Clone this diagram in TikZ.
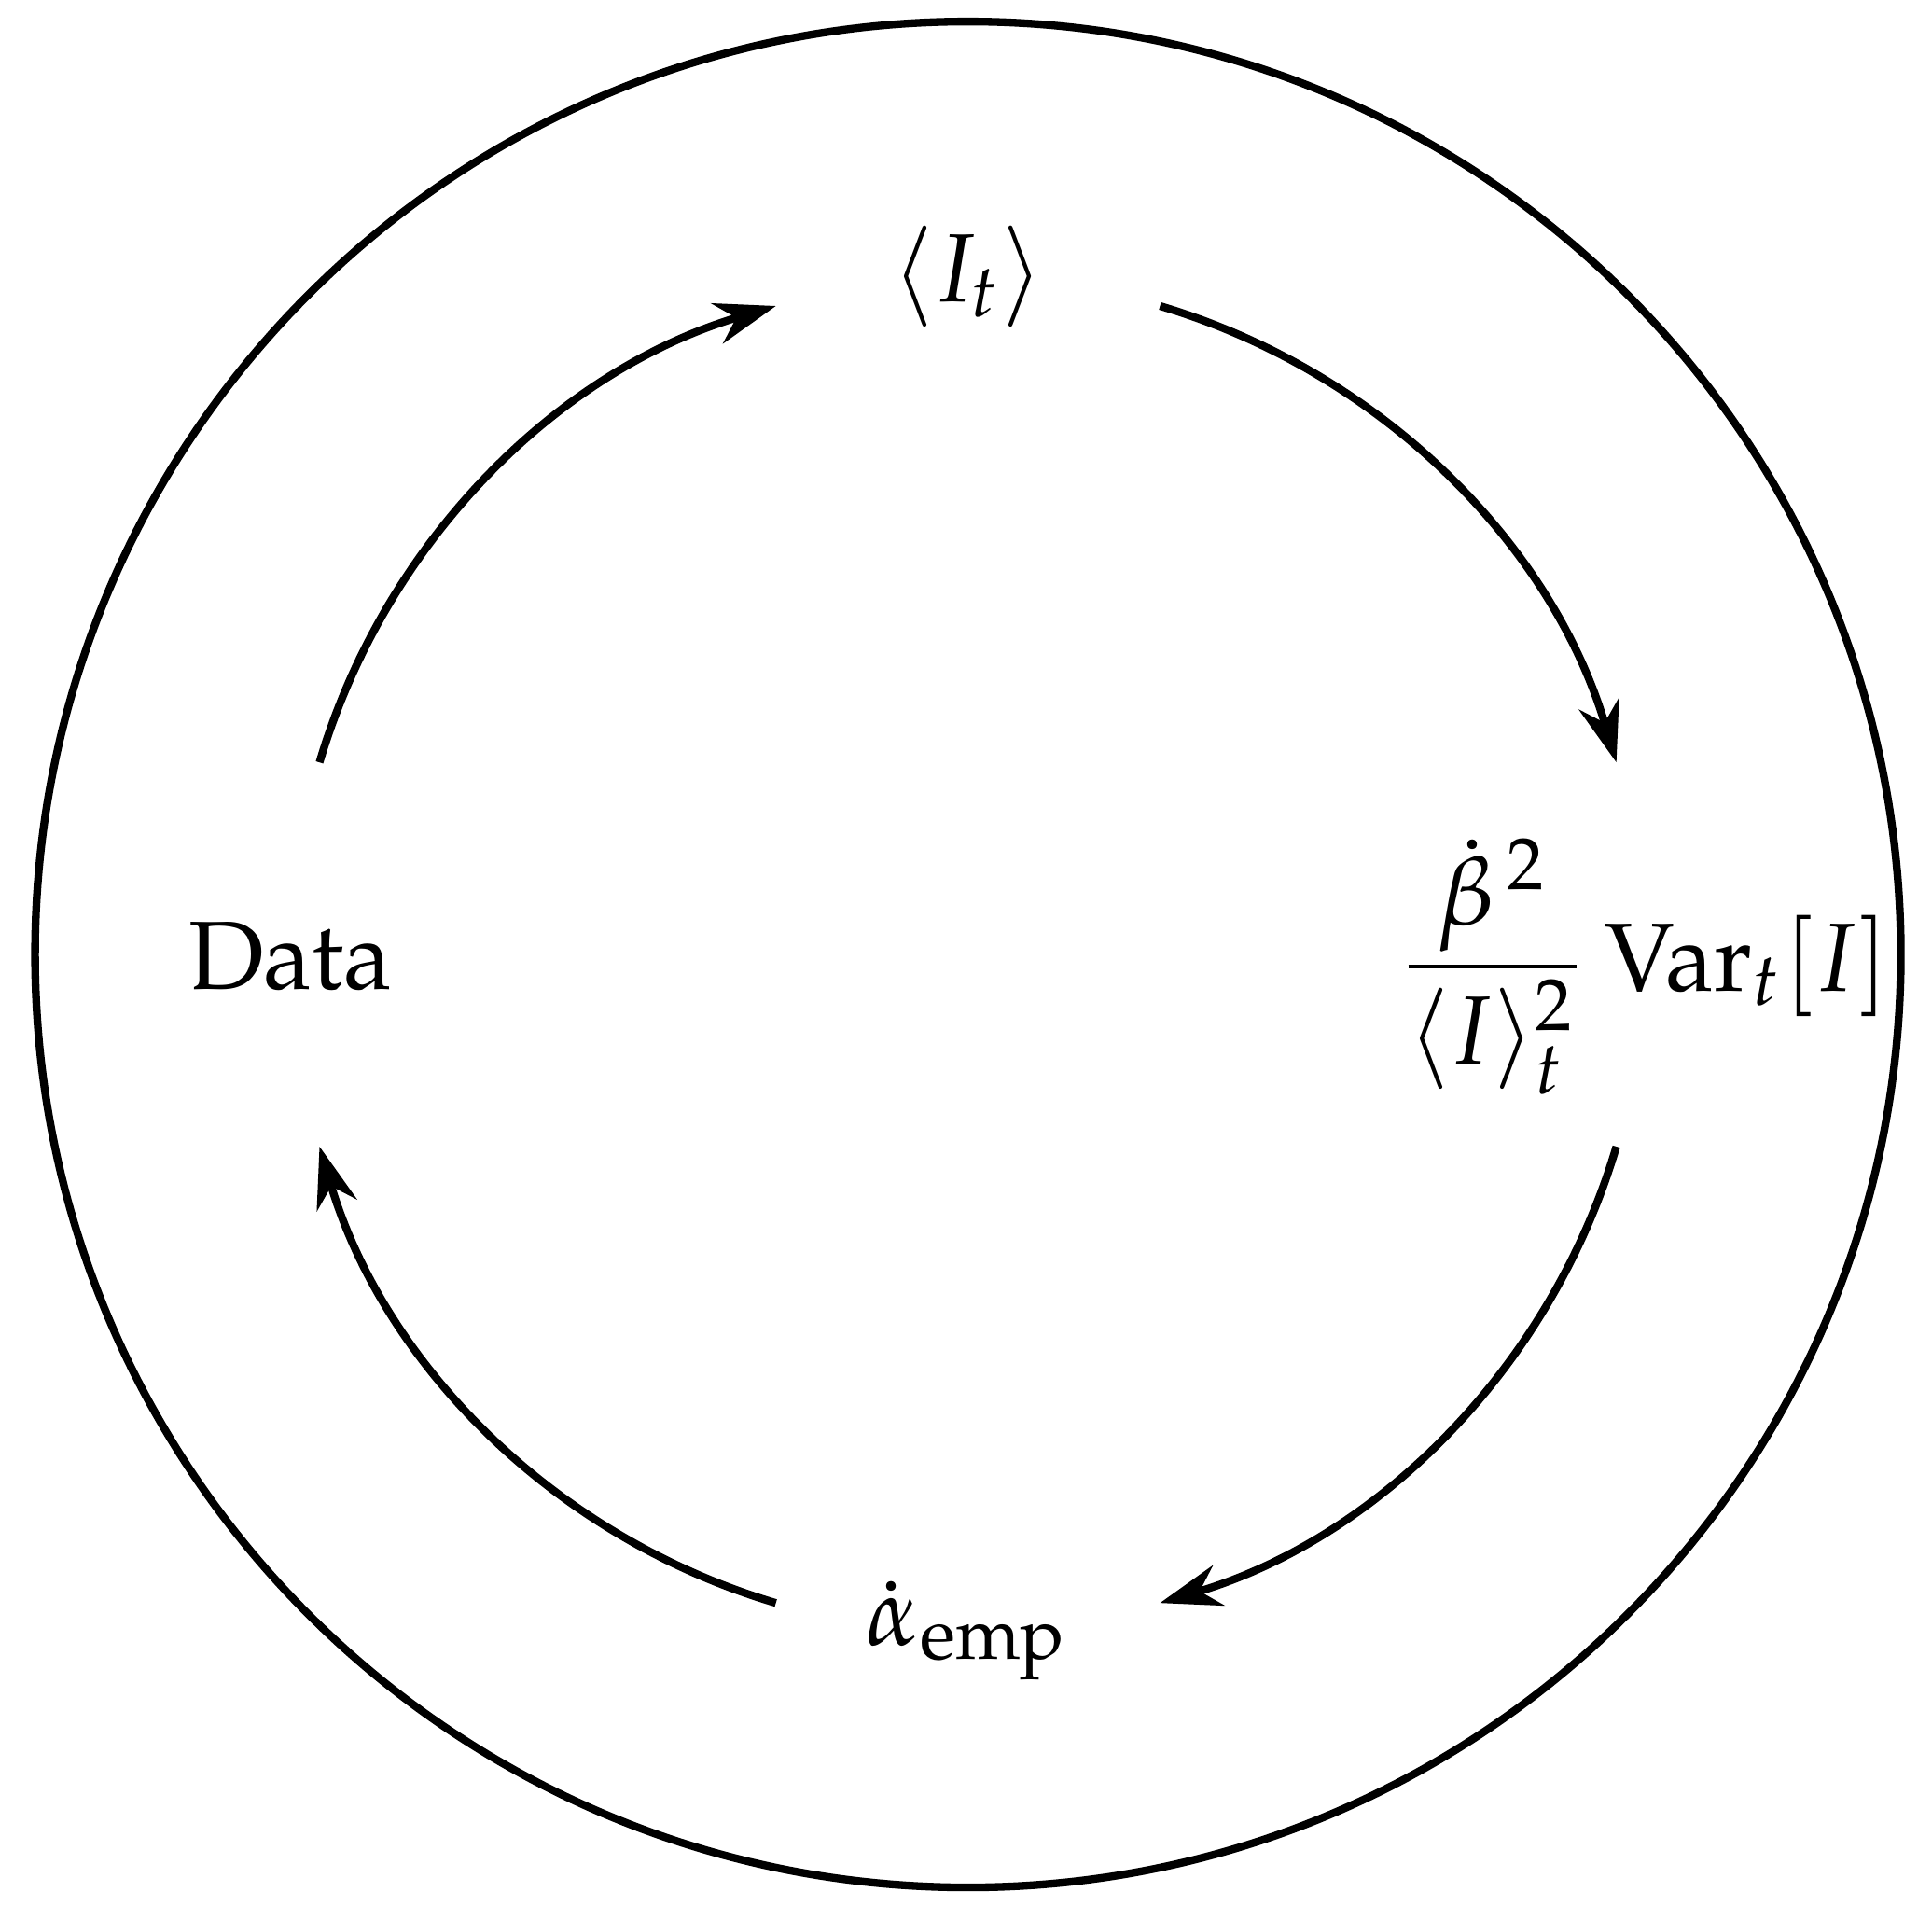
\documentclass[tikz,border=0pt]{standalone}
\usepackage[T1]{fontenc}
\usepackage{mathpazo}
\usepackage{amsmath}
\usepackage{tikz}
\usetikzlibrary{arrows.meta}
\tikzset{
  flow/.style={thick,-{Stealth[length=6.3pt,width=4.3pt]}},
  qty/.style={inner sep=0pt,anchor=base}
}

\begin{document}
\begin{tikzpicture}[x=1mm,y=1mm]
  \useasboundingbox (-35.05,-34.93) rectangle (34.91,34.56);
  \def\rcycle{33.78}
  \def\rarc{24.49}

  % Outer ring.
  \draw[thick] (0,0) circle[radius=\rcycle];

  % The four stations of the loop.
  \node[qty] (mean) at (0,23.63) {$\langle I_t\rangle$};
  \node[qty] (var) at (24.43,-1.32)
    {$\displaystyle\frac{{\dot\beta}^{\,2}}{\langle I\rangle_t^2}\operatorname{Var}_t[I]$};
  \node[qty] (alpha) at (0,-25.0) {$\dot\alpha_{\mathrm{emp}}$};
  \node[qty] (data) at (-24.53,-1.25) {Data};

  % Arc ends, one pair per quadrant.
  \foreach \a in {0,90,180,270}{
    \coordinate (q\a-s) at (\a+73.5:\rarc);
    \coordinate (q\a-e) at (\a+16.5:\rarc);
  }
  \foreach \a in {0,90,180,270}
    \draw[flow] (q\a-s) to[bend left=28.5,looseness=0.906] (q\a-e);
\end{tikzpicture}
\end{document}
